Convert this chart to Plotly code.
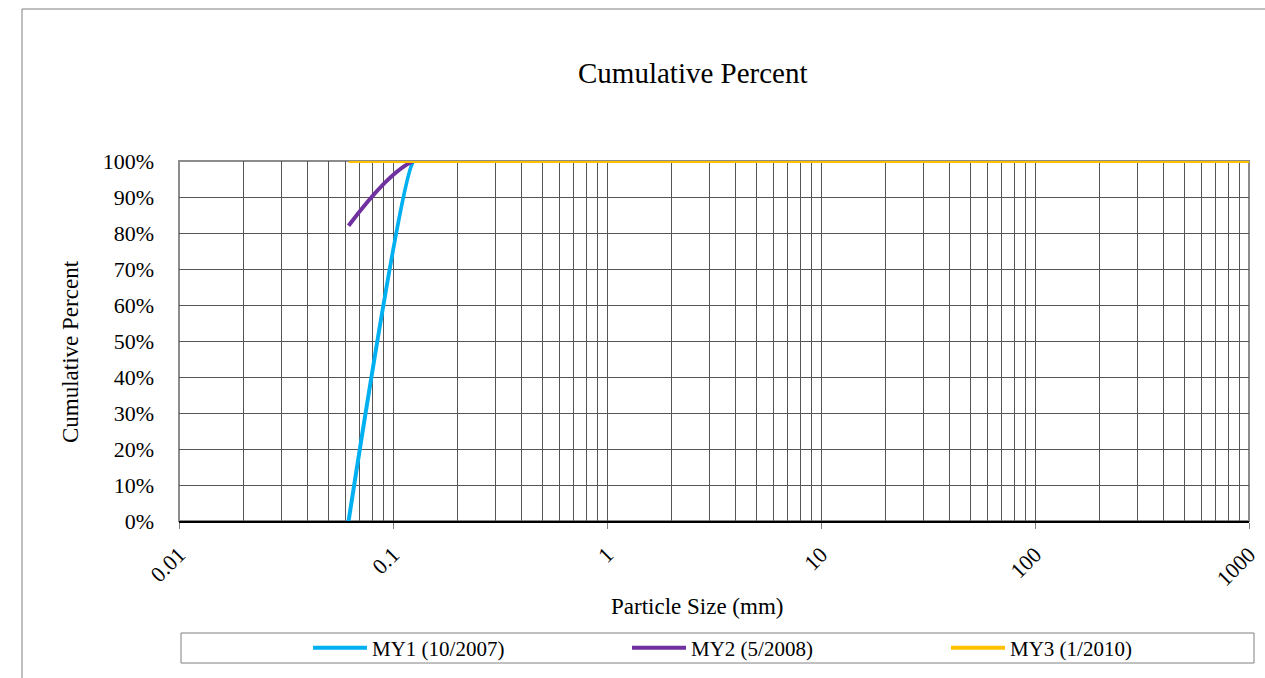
import plotly.graph_objects as go

# Sieve sizes (mm) and cumulative percent finer for each monitoring year
particle_size_mm = [0.062, 0.125, 0.25, 0.5, 1, 2, 4, 5.7, 8, 11.3, 16, 22.6,
                    32, 45, 64, 90, 128, 180, 256, 362, 512, 1024, 2048]
my1_2007 = [0, 100, 100, 100, 100, 100, 100, 100, 100, 100, 100, 100,
            100, 100, 100, 100, 100, 100, 100, 100, 100, 100, 100]
my2_2008 = [82, 100, 100, 100, 100, 100, 100, 100, 100, 100, 100, 100,
            100, 100, 100, 100, 100, 100, 100, 100, 100, 100, 100]
my3_2010 = [100, 100, 100, 100, 100, 100, 100, 100, 100, 100, 100, 100,
            100, 100, 100, 100, 100, 100, 100, 100, 100, 100, 100]

series_names = ["MY1 (10/2007)", "MY2 (5/2008)", "MY3 (1/2010)"]
series_colors = ["#00B0F0", "#7030A0", "#FFC000"]
series_smoothing = [0.25, 1.0, 1.0]
x_tick_values = [0.01, 0.1, 1, 10, 100, 1000]
x_tick_labels = ["0.01", "0.1", "1", "10", "100", "1000"]

FONT = "Liberation Serif"
W, H = 1265, 678
L, R, T, B = 179, 16, 161, 157
pw, ph = W - L - R, H - T - B


def px(x):
    return (x - L) / pw


def py(y):
    return (H - B - y) / ph


fig = go.Figure()
for name, vals, color, sm in zip(series_names, [my1_2007, my2_2008, my3_2010],
                                 series_colors, series_smoothing):
    fig.add_trace(go.Scatter(
        x=particle_size_mm, y=vals, name=name, mode="lines",
        line=dict(color=color, width=4, shape="spline", smoothing=sm),
    ))

grid = "#555555"
fig.update_xaxes(
    type="log", range=[-2, 3], automargin=False,
    tickvals=x_tick_values, ticktext=x_tick_labels, tickangle=-45,
    tickfont=dict(family=FONT, size=22, color="black"),
    ticks="outside", ticklen=6, tickcolor="#808080", tickwidth=1,
    ticklabelstandoff=4,
    showgrid=False,
    minor=dict(dtick="D1", showgrid=True, gridcolor=grid, gridwidth=1, ticks=""),
    showline=True, linecolor="black", linewidth=2,
    zeroline=False,
)
fig.update_yaxes(
    range=[0, 100], dtick=10, ticksuffix="%", automargin=False,
    tickfont=dict(family=FONT, size=22, color="black"),
    ticklabelstandoff=24,
    showgrid=True, gridcolor=grid, gridwidth=1,
    showline=False, zeroline=False, ticks="",
)

shapes = [
    # outer chart frame
    dict(type="rect", xref="paper", yref="paper",
         x0=px(22), x1=px(1400), y0=py(720), y1=py(9),
         line=dict(color="#808080", width=1), layer="below"),
    # plot area frame
    dict(type="rect", xref="paper", yref="paper",
         x0=0, x1=1, y0=0, y1=1,
         line=dict(color="#8c8c8c", width=2), layer="below"),
    # legend frame
    dict(type="rect", xref="paper", yref="paper",
         x0=px(181), x1=px(1254), y0=py(663), y1=py(633),
         line=dict(color="#808080", width=1)),
]

annotations = [
    dict(text="Cumulative Percent", x=px(693), y=py(73), xref="paper", yref="paper",
         showarrow=False, xanchor="center", yanchor="middle",
         font=dict(family=FONT, size=29, color="black")),
    dict(text="Particle Size (mm)", x=px(697), y=py(606), xref="paper", yref="paper",
         showarrow=False, xanchor="center", yanchor="middle",
         font=dict(family=FONT, size=23, color="black")),
    dict(text="Cumulative Percent", x=px(70), y=py(352), xref="paper", yref="paper",
         showarrow=False, xanchor="center", yanchor="middle", textangle=-90,
         font=dict(family=FONT, size=23, color="black")),
]

fig.update_layout(
    width=W, height=H,
    margin=dict(l=L, r=R, t=T, b=B, pad=0, autoexpand=False),
    paper_bgcolor="white", plot_bgcolor="white",
    shapes=shapes, annotations=annotations,
    showlegend=True,
    legend=dict(
        orientation="h", x=px(308), y=py(648), xanchor="left", yanchor="middle",
        font=dict(family=FONT, size=21, color="black"),
        bgcolor="rgba(0,0,0,0)", borderwidth=0,
        itemwidth=54, entrywidth=250, entrywidthmode="pixels",
    ),
)

fig.write_html("out.html")
